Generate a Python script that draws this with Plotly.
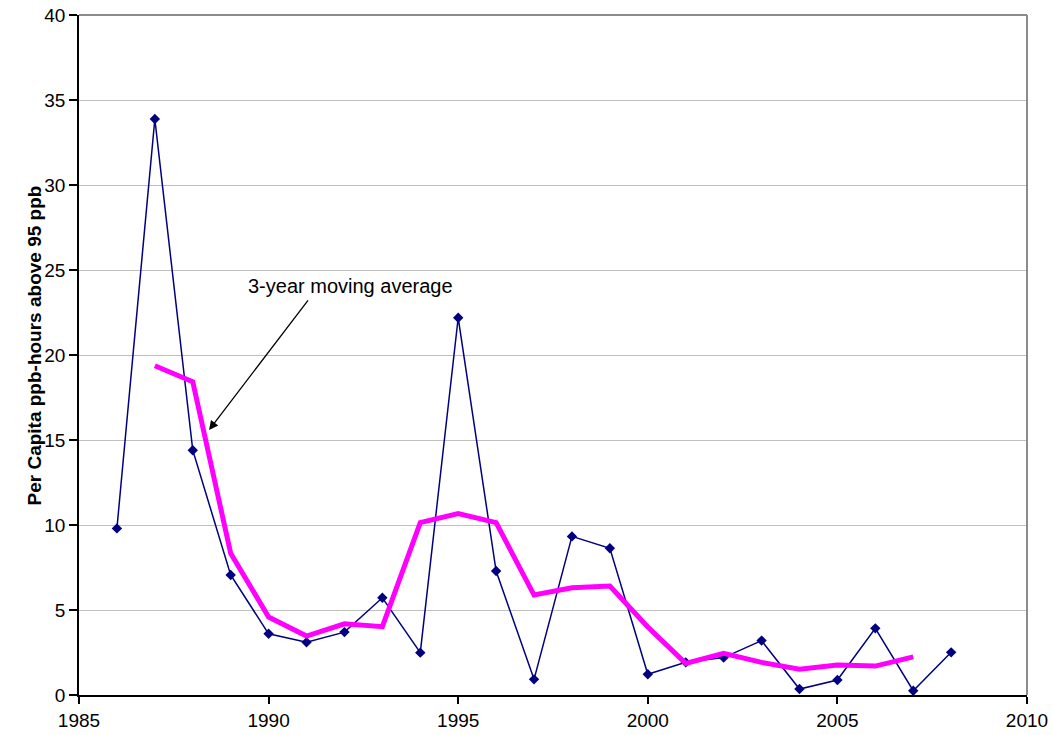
import plotly.graph_objects as go

# Per-capita ozone exposure (ppb-hours above 95 ppb), yearly
years = [1986, 1987, 1988, 1989, 1990, 1991, 1992, 1993, 1994, 1995, 1996, 1997,
         1998, 1999, 2000, 2001, 2002, 2003, 2004, 2005, 2006, 2007, 2008]
exposure = [9.8, 33.88, 14.4, 7.06, 3.6, 3.1, 3.7, 5.72, 2.49, 22.19, 7.29, 0.92,
            9.33, 8.63, 1.22, 1.92, 2.2, 3.2, 0.35, 0.88, 3.92, 0.25, 2.51]

# 3-year centred moving average
ma_years = [1987, 1988, 1989, 1990, 1991, 1992, 1993, 1994, 1995, 1996, 1997,
            1998, 1999, 2000, 2001, 2002, 2003, 2004, 2005, 2006, 2007]
ma_values = [19.37, 18.43, 8.33, 4.59, 3.47, 4.19, 4.02, 10.14, 10.67, 10.14, 5.88,
             6.31, 6.41, 4.0, 1.86, 2.45, 1.92, 1.51, 1.76, 1.7, 2.24]

x_ticks = [1985, 1990, 1995, 2000, 2005, 2010]
y_ticks = [0, 5, 10, 15, 20, 25, 30, 35, 40]

FONT = "Liberation Sans, Arial, sans-serif"

fig = go.Figure()

fig.add_trace(go.Scatter(
    x=years, y=exposure, mode="lines+markers",
    line=dict(color="#000080", width=1.5),
    marker=dict(symbol="diamond", size=8, color="#000080"),
    showlegend=False, cliponaxis=False,
))

fig.add_trace(go.Scatter(
    x=ma_years, y=ma_values, mode="lines",
    line=dict(color="#FF00FF", width=5),
    showlegend=False,
))

# arrow pointing at the moving-average line
fig.add_annotation(
    x=1988.43, y=15.59, ax=1991.07, ay=23.3,
    xref="x", yref="y", axref="x", ayref="y",
    text="", showarrow=True, arrowhead=2, arrowsize=1.4,
    arrowwidth=1.3, arrowcolor="black",
)
fig.add_annotation(
    x=1992.15, y=24.06, xref="x", yref="y",
    text="3-year moving average", showarrow=False,
    font=dict(family=FONT, size=20, color="black"),
)

# y-axis title
fig.add_annotation(
    x=-58 / 948, y=(695 - 346) / 680, xref="paper", yref="paper",
    text="<b>Per Capita ppb-hours above 95 ppb</b>", textangle=-90,
    showarrow=False, font=dict(family=FONT, size=19, color="black"),
)

# grey frame on the top and right sides of the plot area
fig.add_shape(type="line", xref="paper", yref="paper", x0=0, x1=1, y0=1, y1=1,
              line=dict(color="#8c8c8c", width=2), layer="above")
fig.add_shape(type="line", xref="paper", yref="paper", x0=1, x1=1, y0=0, y1=1,
              line=dict(color="#8c8c8c", width=2), layer="above")

fig.update_layout(
    width=1052, height=735,
    margin=dict(l=79, r=25, t=15, b=40, autoexpand=False),
    paper_bgcolor="white", plot_bgcolor="white",
    font=dict(family=FONT, size=19, color="black"),
    xaxis=dict(
        range=[1985, 2010], tickvals=x_ticks, ticktext=[str(v) for v in x_ticks],
        showgrid=False, zeroline=False, automargin=False,
        showline=True, linecolor="black", linewidth=1.5,
        ticks="outside", ticklen=7, tickcolor="black", tickwidth=1.5,
        tickfont=dict(family=FONT, size=19),
    ),
    yaxis=dict(
        range=[0, 40], tickvals=y_ticks, automargin=False,
        showgrid=True, gridcolor="#c0c0c0", gridwidth=1, zeroline=False,
        showline=True, linecolor="black", linewidth=1.5,
        ticks="outside", ticklen=8, tickcolor="black", tickwidth=1.5,
        tickfont=dict(family=FONT, size=19),
    ),
)

fig.write_html("out.html")
